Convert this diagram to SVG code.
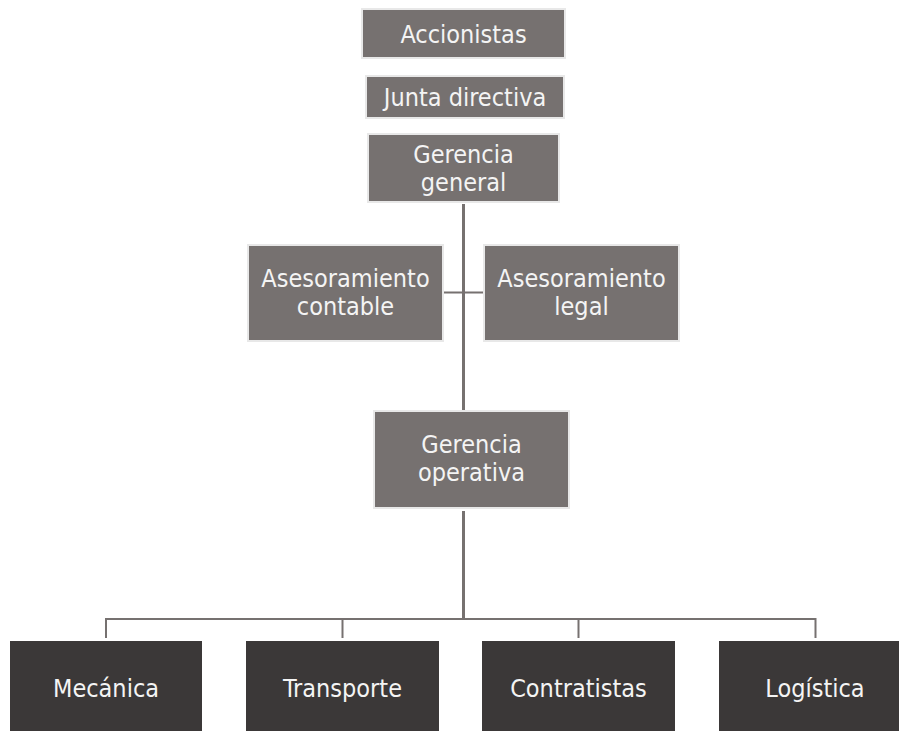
<svg xmlns="http://www.w3.org/2000/svg" width="899" height="731" viewBox="0 0 899 731">
<style>
.g{fill:#767170;stroke:#e8e8e8;stroke-width:2}
.d{fill:#3b3838}
text{font-family:"DejaVu Sans Condensed","DejaVu Sans","Liberation Sans",sans-serif;font-stretch:condensed;font-size:25px;fill:#f4f4f4;text-anchor:middle}
.c{fill:none;stroke:#767170}
</style>
<rect width="899" height="731" fill="#ffffff"/>
<g id="connectors">
<line class="c" x1="463.5" y1="204" x2="463.5" y2="411" stroke-width="3"/>
<line class="c" x1="444" y1="292.5" x2="483" y2="292.5" stroke-width="2"/>
<line class="c" x1="463.5" y1="511" x2="463.5" y2="619" stroke-width="3"/>
<polyline class="c" points="106,638 106,619 815.5,619 815.5,638" stroke-width="2"/>
<line class="c" x1="342.5" y1="619" x2="342.5" y2="638" stroke-width="2"/>
<line class="c" x1="578.5" y1="619" x2="578.5" y2="638" stroke-width="2"/>
</g>
<g id="accionistas"><rect class="g" x="362" y="9" width="203" height="49"/><text x="463.5" y="43">Accionistas</text></g>
<g id="junta"><rect class="g" x="366" y="76" width="198" height="42"/><text x="465" y="106">Junta directiva</text></g>
<g id="gerencia-general"><rect class="g" x="368" y="134" width="191" height="68"/><text x="463.5" y="163">Gerencia</text><text x="463.5" y="191">general</text></g>
<g id="ases-contable"><rect class="g" x="248" y="245" width="195" height="96"/><text x="345.5" y="287">Asesoramiento</text><text x="345.5" y="315">contable</text></g>
<g id="ases-legal"><rect class="g" x="484" y="245" width="195" height="96"/><text x="581.5" y="287">Asesoramiento</text><text x="581.5" y="315">legal</text></g>
<g id="gerencia-operativa"><rect class="g" x="374" y="411" width="195" height="97"/><text x="471.5" y="453">Gerencia</text><text x="471.5" y="481">operativa</text></g>
<g id="mecanica"><rect class="d" x="10" y="641" width="192" height="92"/><text x="106" y="697">Mecánica</text></g>
<g id="transporte"><rect class="d" x="246" y="641" width="193" height="92"/><text x="342.5" y="697">Transporte</text></g>
<g id="contratistas"><rect class="d" x="482" y="641" width="193" height="92"/><text x="578.5" y="697">Contratistas</text></g>
<g id="logistica"><rect class="d" x="719" y="641" width="193" height="92"/><text x="815" y="697">Logística</text></g>
</svg>
